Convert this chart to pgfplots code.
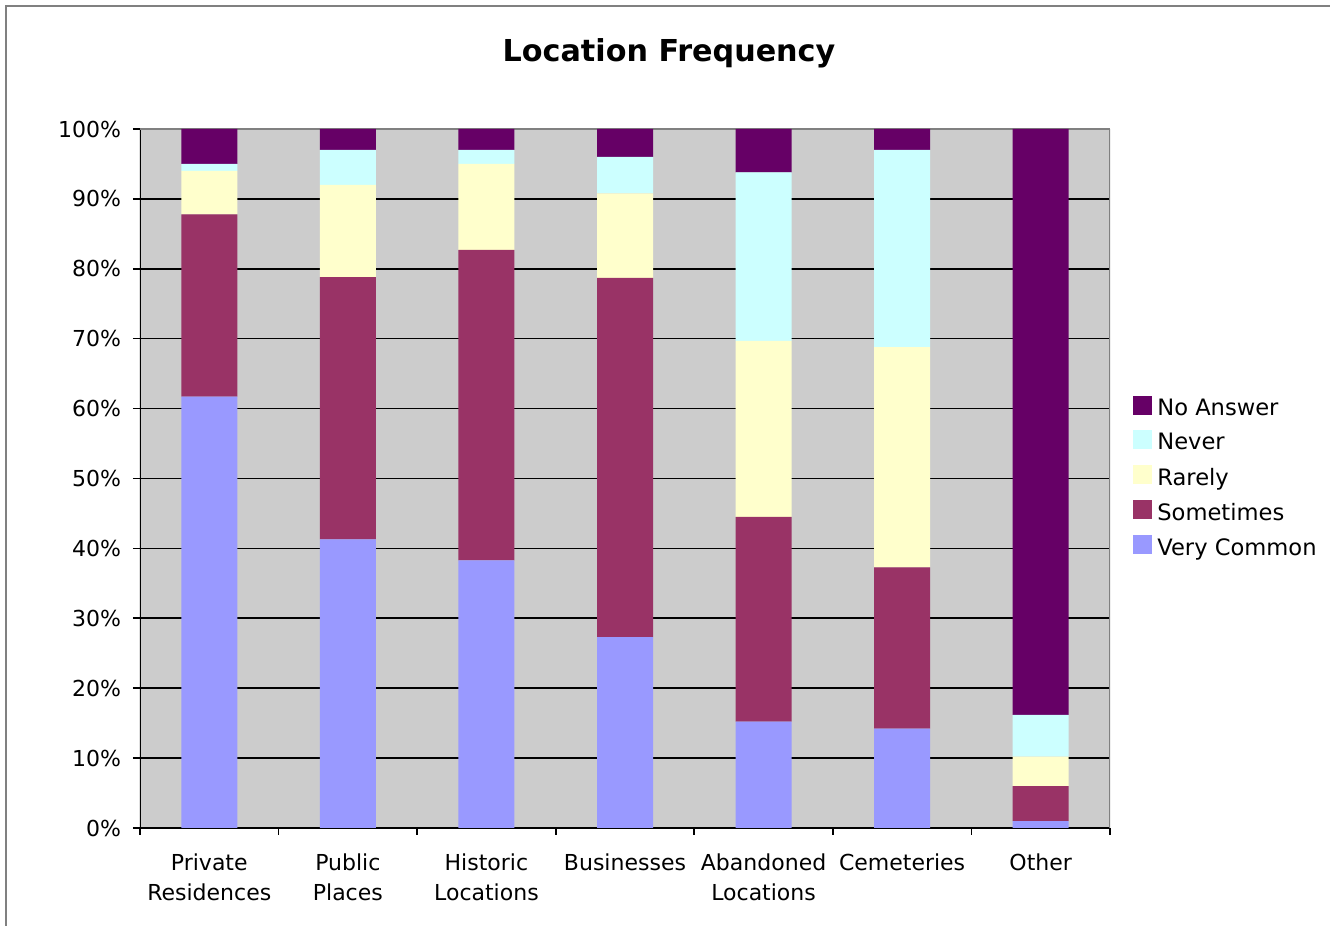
\documentclass[border=0pt]{standalone}
\usepackage{fontspec}
\setmainfont{DejaVu Sans}
\usepackage{pgfplots}
\usepackage{pgfplotstable}
\pgfplotsset{compat=1.18}

\definecolor{vcommon}{HTML}{9999FF}
\definecolor{sometimes}{HTML}{993366}
\definecolor{rarely}{HTML}{FFFFCC}
\definecolor{never}{HTML}{CCFFFF}
\definecolor{noanswer}{HTML}{660066}
\definecolor{plotbg}{HTML}{CCCCCC}
\definecolor{framegray}{HTML}{808080}

% percentages per location, stacked bottom to top
\pgfplotstableread{
x  VeryCommon Sometimes Rarely Never NoAnswer
0  61.7       26.1      6.2    1.0   5.0
1  41.3       37.5      13.2   5.0   3.0
2  38.3       44.4      12.3   2.0   3.0
3  27.3       51.4      12.1   5.2   4.0
4  15.2       29.3      25.2   24.1  6.2
5  14.2       23.1      31.5   28.2  3.0
6  1.0        5.0       4.2    6.0   83.8
}\loctable

\pgfplotsset{
  swatch/.style={legend image code/.code={\fill[##1] (0pt,-3pt) rectangle (9.5pt,6.5pt);}},
}

\begin{document}
\begin{tikzpicture}
\path[use as bounding box] (-70pt,-49pt) rectangle (595pt,414pt);
\draw[framegray, line width=1pt] (-67pt,-60pt) -- (-67pt,411pt) -- (610pt,411pt);
\begin{axis}[
  at={(0pt,0pt)}, anchor=south west,
  scale only axis,
  width=485pt, height=349.5pt,
  ybar stacked,
  bar width=28pt,
  xmin=-0.5, xmax=6.5,
  ymin=0, ymax=100,
  axis background/.style={fill=plotbg},
  axis line style={draw=none},
  ytick={0,10,...,100},
  yticklabel={\pgfmathprintnumber{\tick}\%},
  /pgf/number format/assume math mode=true,
  ytick pos=left,
  xtick pos=bottom,
  tick align=outside,
  major tick length=3.5pt,
  tick style={black, line width=0.8pt},
  % boundaries carry the tick marks, centres carry the names
  xtick={-0.5,0.5,...,6.5},
  xticklabels={},
  extra x ticks={0,...,6},
  extra x tick style={tick style={draw=none}, grid=none},
  extra x tick labels={{Private\\Residences},{Public\\Places},{Historic\\Locations},Businesses,{Abandoned\\Locations},Cemeteries,Other},
  xticklabel style={align=center, anchor=north, yshift=-6pt, font=\fontsize{11}{15}\selectfont},
  yticklabel style={xshift=-2.5pt, font=\fontsize{11}{13}\selectfont},
  ymajorgrids,
  grid style={black, line width=0.8pt},
  legend style={at={(1.0175,0.5)}, anchor=west, draw=none, fill=none,
    font=\fontsize{11.3}{13}\selectfont, row sep=3.5pt, column sep=0.5pt},
  legend cell align=left,
  reverse legend,
]
\addplot[fill=vcommon, draw=none, swatch] table[x=x, y=VeryCommon] {\loctable};
\addlegendentry{Very Common}
\addplot[fill=sometimes, draw=none, swatch] table[x=x, y=Sometimes] {\loctable};
\addlegendentry{Sometimes}
\addplot[fill=rarely, draw=none, swatch] table[x=x, y=Rarely] {\loctable};
\addlegendentry{Rarely}
\addplot[fill=never, draw=none, swatch] table[x=x, y=Never] {\loctable};
\addlegendentry{Never}
\addplot[fill=noanswer, draw=none, swatch] table[x=x, y=NoAnswer] {\loctable};
\addlegendentry{No Answer}
\draw[framegray, line width=1pt] (rel axis cs:0,1) -- (rel axis cs:1,1);
\draw[framegray, line width=1.4pt] (rel axis cs:1,0) -- (rel axis cs:1,1);
\draw[black, line width=0.9pt] (rel axis cs:0,1) -- (rel axis cs:0,0) -- (rel axis cs:1,0);
\end{axis}
\node[font=\bfseries\fontsize{15.1}{18}\selectfont] at (264.5pt,387.5pt) {Location Frequency};
\end{tikzpicture}
\end{document}
